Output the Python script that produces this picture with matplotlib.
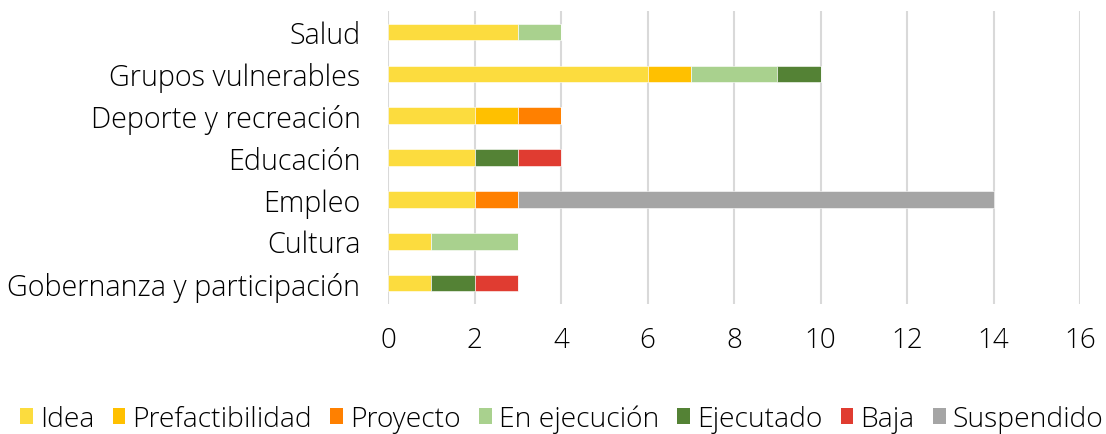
import matplotlib
matplotlib.use("Agg")
import matplotlib.pyplot as plt
from matplotlib.patches import Patch
import numpy as np

plt.rcParams['font.family'] = ['Open Sans', 'DejaVu Sans']
plt.rcParams['font.weight'] = 'light'

categories = ["Salud", "Grupos vulnerables", "Deporte y recreación", "Educación",
              "Empleo", "Cultura", "Gobernanza y participación"]
series_names = ["Idea", "Prefactibilidad", "Proyecto", "En ejecución", "Ejecutado", "Baja", "Suspendido"]
idea          = [3, 6, 2, 2, 2, 1, 1]
prefact       = [0, 1, 1, 0, 0, 0, 0]
proyecto      = [0, 0, 1, 0, 1, 0, 0]
en_ejecucion  = [1, 2, 0, 0, 0, 2, 0]
ejecutado     = [0, 1, 0, 1, 0, 0, 1]
baja          = [0, 0, 0, 1, 0, 0, 1]
suspendido    = [0, 0, 0, 0, 11, 0, 0]
series = [idea, prefact, proyecto, en_ejecucion, ejecutado, baja, suspendido]
colors = ["#FCDC3E", "#FFC000", "#FF8000", "#A9D18E", "#548235", "#E03C31", "#A5A5A5"]
xticks = [0, 2, 4, 6, 8, 10, 12, 14, 16]

FS = 20

fig = plt.figure(figsize=(11.06, 4.35), dpi=100)
ax = fig.add_axes([0.351, 0.299, 0.6255, 0.673])

y = np.arange(len(categories))
left = np.zeros(len(categories))
for name, vals, c in zip(series_names, series, colors):
    v = np.array(vals, dtype=float)
    ax.barh(y, v, left=left, height=0.4, color=c, edgecolor="white", linewidth=0.4, label=name, zorder=3)
    left += v

ax.set_ylim(len(categories) - 0.5, -0.5)
ax.set_xlim(0, 16)
ax.set_xticks(xticks)
ax.set_xticklabels([str(t) for t in xticks], fontsize=FS, color="#000000")
ax.set_yticks(y)
ax.set_yticklabels(categories, fontsize=20.7, color="#000000")
ax.tick_params(axis='x', length=0, pad=16)
ax.tick_params(axis='y', length=0, pad=20)
for s in ax.spines.values():
    s.set_visible(False)
ax.grid(axis='x', color="#D9D9D9", linewidth=1.5, zorder=0)
ax.set_axisbelow(True)

handles = [Patch(facecolor=c, edgecolor='none') for c in colors]
fig.legend(handles, series_names, loc='center', bbox_to_anchor=(0.508, 0.035), ncol=7,
           frameon=False, fontsize=20.3, handlelength=0.45, handleheight=0.45,
           handletextpad=0.25, columnspacing=0.65, borderaxespad=0)

fig.savefig("out.png", dpi=100)
